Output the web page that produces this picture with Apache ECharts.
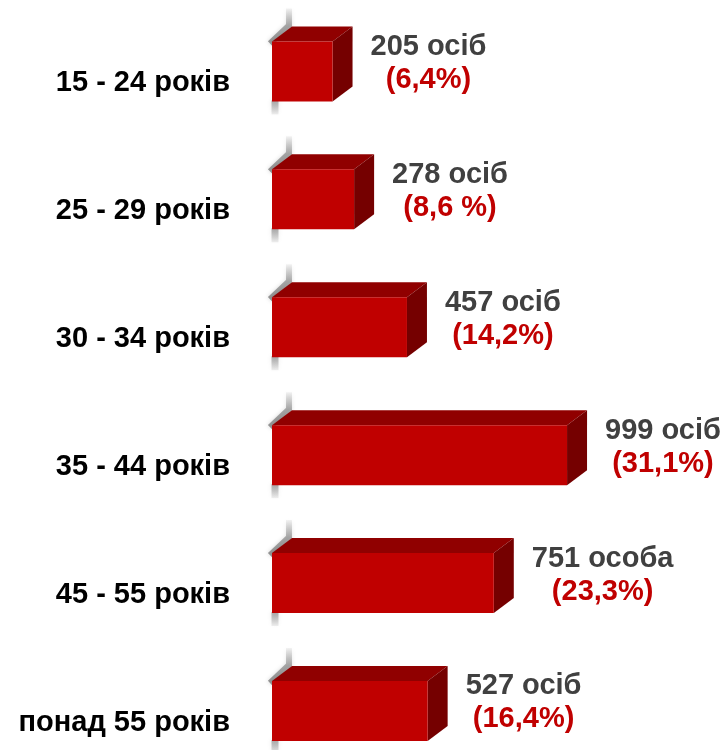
<!DOCTYPE html>
<html>
<head>
<meta charset="utf-8">
<script src="https://cdn.jsdelivr.net/npm/echarts@6/dist/echarts.min.js"></script>
<style>html,body{margin:0;padding:0;background:#fff;}#c{width:726px;height:750px;}</style>
</head>
<body>
<div id="c"></div>
<script>
const categories = ['15 - 24 років', '25 - 29 років', '30 - 34 років', '35 - 44 років', '45 - 55 років', 'понад 55 років'];
const counts = [205, 278, 457, 999, 751, 527];
const countLabels = ['205 осіб', '278 осіб', '457 осіб', '999 осіб', '751 особа', '527 осіб'];
const percentLabels = ['(6,4%)', '(8,6 %)', '(14,2%)', '(31,1%)', '(23,3%)', '(16,4%)'];

const FONT = '"Liberation Sans", Arial, Helvetica, sans-serif';
const FS = 29;
const mctx = document.createElement('canvas').getContext('2d');
mctx.font = 'bold ' + FS + 'px ' + FONT;
function tw(s) { return mctx.measureText(s).width; }

const chart = echarts.init(document.getElementById('c'), null, { renderer: 'canvas' });
const DX = 20, DY = 15;

function renderItem(params, api) {
  const i = api.value(1);
  const v = api.value(0);
  const s = api.coord([0, i]);
  const e = api.coord([v, i]);
  const band = api.size([0, 1])[1];
  const h = band * 0.469;
  const y0 = s[1] - h / 2;
  const x0 = s[0], x1 = e[0];
  const blockW = Math.max(tw(countLabels[i]), tw(percentLabels[i]));
  const tx = x1 + DX + 18 + blockW / 2;
  return {
    type: 'group',
    children: [
      {
        type: 'polyline',
        shape: { points: [[x0 + DX - 3, y0 - DY - 18], [x0 + DX - 3, y0 - DY - 1], [x0 - 2, y0 + 2]] },
        style: {
          fill: null,
          lineWidth: 6,
          stroke: new echarts.graphic.LinearGradient(0, 0, 0, 1, [
            { offset: 0, color: 'rgba(120,120,120,0)' },
            { offset: 0.5, color: 'rgba(110,110,110,0.55)' },
            { offset: 1, color: 'rgba(100,100,100,0.7)' }
          ]),
          shadowBlur: 4,
          shadowColor: 'rgba(0,0,0,0.25)'
        }
      },
      {
        type: 'polyline',
        shape: { points: [[x0 + 3, y0 + h - 1], [x0 + 3, y0 + h + 13]] },
        style: {
          fill: null,
          lineWidth: 7,
          stroke: new echarts.graphic.LinearGradient(0, 0, 0, 1, [
            { offset: 0, color: 'rgba(100,100,100,0.65)' },
            { offset: 1, color: 'rgba(120,120,120,0)' }
          ]),
          shadowBlur: 4,
          shadowColor: 'rgba(0,0,0,0.2)'
        }
      },
      {
        type: 'polygon',
        shape: { points: [[x0, y0], [x0 + DX, y0 - DY], [x1 + DX, y0 - DY], [x1, y0]] },
        style: { fill: '#900000' }
      },
      {
        type: 'polygon',
        shape: { points: [[x1, y0], [x1 + DX, y0 - DY], [x1 + DX, y0 + h - DY], [x1, y0 + h]] },
        style: { fill: '#750000' }
      },
      {
        type: 'rect',
        shape: { x: x0, y: y0, width: x1 - x0, height: h },
        style: { fill: '#C00000' }
      },
      {
        type: 'text',
        style: {
          x: tx,
          y: s[1] - 8,
          align: 'center',
          verticalAlign: 'middle',
          text: '{a|' + countLabels[i] + '}\n{b|' + percentLabels[i] + '}',
          rich: {
            a: { fontSize: FS, fontWeight: 'bold', fontFamily: FONT, fill: '#404040', lineHeight: 33, align: 'center' },
            b: { fontSize: FS, fontWeight: 'bold', fontFamily: FONT, fill: '#C00000', lineHeight: 33, align: 'center' }
          }
        }
      }
    ]
  };
}

chart.setOption({
  animation: false,
  backgroundColor: '#ffffff',
  grid: { left: 272, width: 443, top: 7.5, height: 767.4, outerBoundsMode: 'none', containLabel: false },
  xAxis: { type: 'value', min: 0, max: 1500, show: false },
  yAxis: {
    type: 'category',
    data: categories,
    inverse: true,
    axisLine: { show: false },
    axisTick: { show: false },
    splitLine: { show: false },
    axisLabel: {
      margin: 42,
      fontSize: FS,
      fontWeight: 'bold',
      fontFamily: FONT,
      color: '#000000',
      verticalAlign: 'top',
      lineHeight: 24
    }
  },
  series: [{
    type: 'custom',
    renderItem: renderItem,
    encode: { x: 0, y: 1 },
    data: counts.map((v, i) => [v, i]),
    clip: false
  }]
});
</script>
</body>
</html>
